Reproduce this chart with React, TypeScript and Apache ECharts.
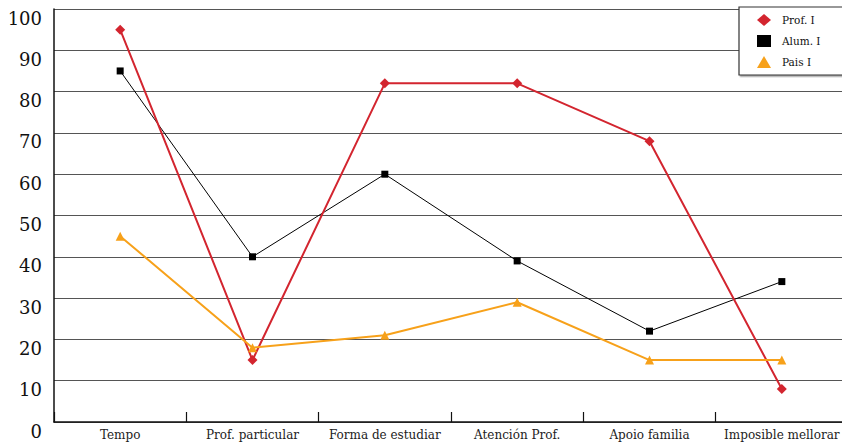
import React, { useEffect, useRef } from "react";
import * as echarts from "echarts";

const categories = [
  "Tempo",
  "Prof. particular",
  "Forma de estudiar",
  "Atención Prof.",
  "Apoio familia",
  "Imposible mellorar",
];
const profValues = [95, 15, 82, 82, 68, 8];
const alumValues = [85, 40, 60, 39, 22, 34];
const paisValues = [45, 18, 21, 29, 15, 15];

const SERIF = "'DejaVu Serif', 'Liberation Serif', serif";

export default function App() {
  const ref = useRef<HTMLDivElement>(null);

  useEffect(() => {
    document.body.style.margin = "0";
    document.body.style.overflow = "hidden";
    const chart = echarts.init(ref.current!, null, { renderer: "svg" });
    chart.setOption({
      animation: false,
      backgroundColor: "#ffffff",
      grid: { left: 54, top: 9, bottom: 22, right: 0 },
      legend: {
        orient: "vertical",
        left: 739,
        top: 7,
        padding: [7, 44, 7, 18],
        itemWidth: 14,
        itemHeight: 12,
        itemGap: 9,
        backgroundColor: "#ffffff",
        borderColor: "#333",
        borderWidth: 1.2,
        shadowColor: "rgba(0,0,0,0.35)",
        shadowOffsetX: 1.5,
        shadowOffsetY: 1.5,
        shadowBlur: 1,
        textStyle: { fontFamily: SERIF, fontSize: 10.5, color: "#111", padding: [0, 0, 0, 6] },
        data: [
          { name: "Prof. I", icon: "diamond" },
          { name: "Alum. I", icon: "rect" },
          { name: "Pais I", icon: "triangle" },
        ],
        z: 10,
      },
      xAxis: {
        type: "category",
        data: categories,
        boundaryGap: true,
        axisLine: { lineStyle: { color: "#111", width: 1.5 } },
        axisTick: {
          show: true,
          inside: true,
          length: 10,
          interval: 0,
          lineStyle: { color: "#111", width: 1.2 },
        },
        axisLabel: {
          fontFamily: SERIF,
          fontSize: 12,
          color: "#222",
          margin: 7,
          interval: 0,
        },
        splitLine: { show: false },
      },
      yAxis: {
        type: "value",
        min: 0,
        max: 100,
        interval: 10,
        axisLine: { show: true, lineStyle: { color: "#111", width: 1.5 } },
        axisTick: { show: false },
        axisLabel: {
          fontFamily: SERIF,
          fontSize: 18,
          color: "#111",
          margin: 12,
          verticalAlign: "top",
        },
        splitLine: { lineStyle: { color: "#555", width: 1.2 } },
      },
      series: [
        {
          name: "Prof. I",
          type: "line",
          data: profValues,
          symbol: "diamond",
          symbolSize: 10,
          itemStyle: { color: "#d3252f" },
          lineStyle: { color: "#d3252f", width: 2 },
          z: 3,
        },
        {
          name: "Alum. I",
          type: "line",
          data: alumValues,
          symbol: "rect",
          symbolSize: 7,
          itemStyle: { color: "#000000" },
          lineStyle: { color: "#000000", width: 1 },
          z: 2,
        },
        {
          name: "Pais I",
          type: "line",
          data: paisValues,
          symbol: "triangle",
          symbolSize: 9,
          itemStyle: { color: "#f7a11a" },
          lineStyle: { color: "#f7a11a", width: 2 },
          z: 4,
        },
      ],
    });
    return () => chart.dispose();
  }, []);

  return <div ref={ref} style={{ width: 848, height: 444 }} />;
}
